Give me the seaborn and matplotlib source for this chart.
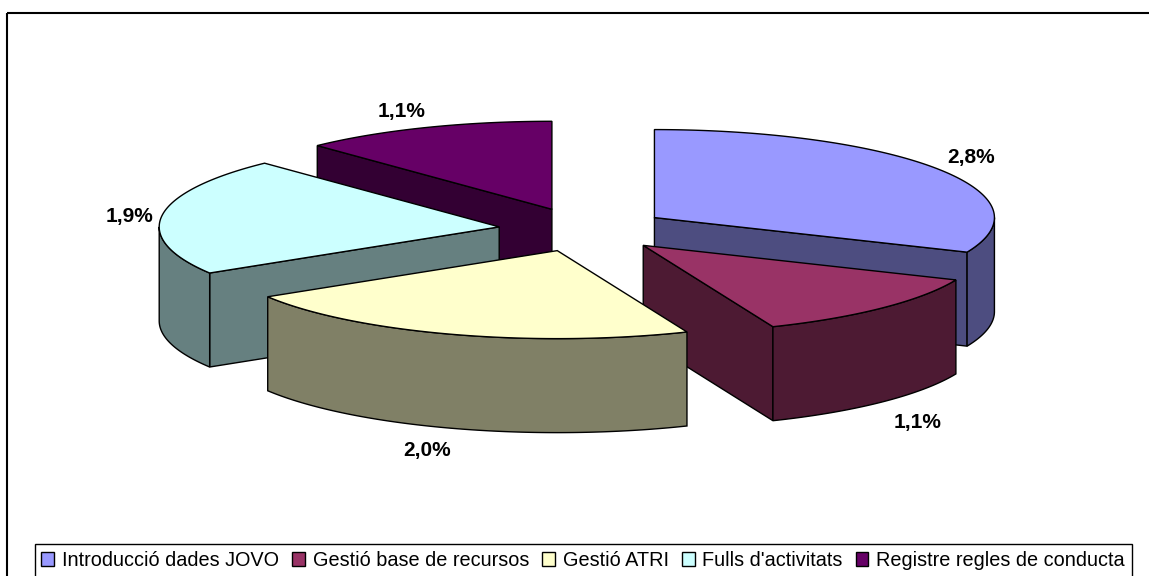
import numpy as np
import matplotlib
matplotlib.use('Agg')
import matplotlib.pyplot as plt
from matplotlib.patches import Polygon, Rectangle
import seaborn as sns

# chart data
categories = ['Introducció dades JOVO', 'Gestió base de recursos', 'Gestió ATRI',
              "Fulls d'activitats", 'Registre regles de conducta']
values = [2.8, 1.1, 2.0, 1.93, 1.08]
colors = ['#9999FF', '#993366', '#FFFFCC', '#CCFFFF', '#660066']

# pie geometry, in pixels of the picture
W, H = 1149, 576
CX, CY = 583.5, 229.7
RX, RY = 340, 88
DEPTH = 94
EXPLODE = 0.25

# small per-label corrections, x and y in pixels
LABEL_NUDGE = [(1, 2), (5, 3), (0, -1), (1, 4), (2, 6)]

sns.set_theme(style='white')
plt.rcParams['font.family'] = ['Liberation Sans', 'DejaVu Sans']

palette = sns.color_palette(colors)
shades = [tuple(c * 0.5 for c in col) for col in palette]

fig = plt.figure(figsize=(W / 100, H / 100), dpi=100)
ax = fig.add_axes([0, 0, 1, 1])
ax.set_xlim(0, W)
ax.set_ylim(H, 0)
ax.axis('off')

# outer chart frame runs off the right and bottom of the picture
ax.add_patch(Rectangle((7, 13), W + 20, H + 20, fill=False, ec='black', lw=1.5))


# angle is clockwise from the top, in radians
def rim(ax_x, ax_y, angles):
    return np.column_stack([ax_x + RX * np.sin(angles), ax_y - RY * np.cos(angles)])


edges = np.radians(np.concatenate([[0], np.cumsum(values)]) / sum(values) * 360)
mids = (edges[:-1] + edges[1:]) / 2
apex_x = CX + EXPLODE * RX * np.sin(mids)
apex_y = CY - EXPLODE * RY * np.cos(mids)
drop = np.array([0, DEPTH])

# back slices first, so front ones paint over them
for i in np.argsort(apex_y):
    a0, a1 = edges[i], edges[i + 1]
    apex = np.array([apex_x[i], apex_y[i]])
    arc = rim(apex[0], apex[1], np.linspace(a0, a1, 120))

    # a cut wall faces the viewer only on the closing edge in the right half
    # or on the opening edge in the left half
    visible = []
    if np.pi < a0 < 2 * np.pi:
        visible.append(arc[0])
    if 0 < a1 < np.pi:
        visible.append(arc[-1])
    for p in visible:
        wall = np.array([apex, p, p + drop, apex + drop])
        ax.add_patch(Polygon(wall, fc=shades[i], ec='black', lw=1))

    # outer rim, only the near half of the ellipse shows
    lo, hi = max(a0, np.pi / 2), min(a1, 3 * np.pi / 2)
    if hi > lo:
        near = rim(apex[0], apex[1], np.linspace(lo, hi, 120))
        ax.add_patch(Polygon(np.vstack([near, (near + drop)[::-1]]),
                             fc=shades[i], ec='black', lw=1))

    ax.add_patch(Polygon(np.vstack([apex, arc]), fc=palette[i], ec='black', lw=1))

# value labels sit just outside the rim at the middle of each slice
for i, m in enumerate(mids):
    p = rim(apex_x[i], apex_y[i], np.array([m]))[0]
    if np.cos(m) < 0:
        p = p + drop
    off_x = 22 * np.sign(np.sin(m)) + 12 * np.sin(m) + LABEL_NUDGE[i][0]
    off_y = -24 * np.cos(m) + LABEL_NUDGE[i][1]
    ax.text(p[0] + off_x, p[1] + off_y, f'{values[i]:.1f}%'.replace('.', ','),
            ha='center', va='center', fontsize=15, fontweight='bold', color='black')

handles = [Rectangle((0, 0), 1, 1, fc=palette[i], ec='black', lw=1) for i in range(len(values))]
ax.legend(handles, categories, ncol=5, mode='expand', loc='lower left',
          bbox_to_anchor=(34.5 / W, -1 / H, 1097.5 / W, 35 / H), bbox_transform=ax.transAxes,
          borderaxespad=0, fontsize=14.3, handlelength=0.65, handleheight=0.65,
          handletextpad=0.4, columnspacing=0.5, borderpad=0.35, fancybox=False,
          framealpha=1, edgecolor='black', labelcolor='black')

fig.savefig('out.png', dpi=100)
